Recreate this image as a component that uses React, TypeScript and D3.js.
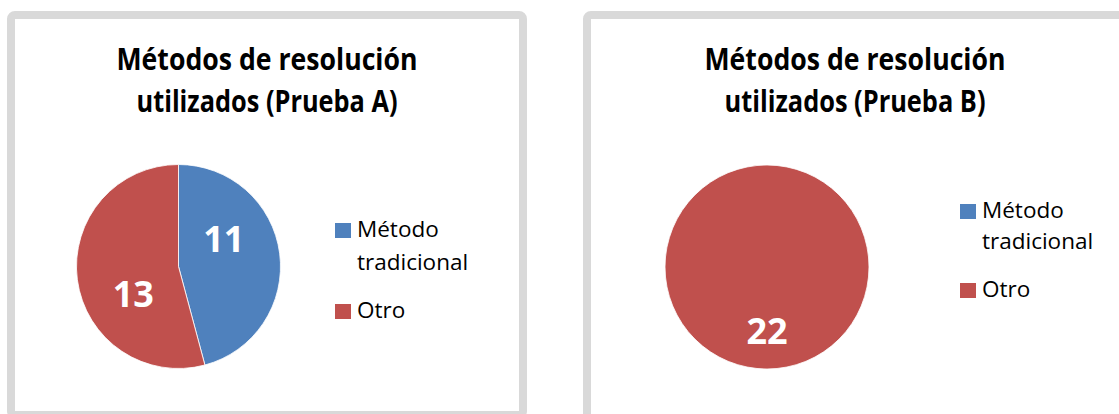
import * as d3 from "d3";

// chart data
const categories = ["Método tradicional", "Otro"];
const valuesA = [11, 13];
const valuesB = [0, 22];
const titleA = ["Métodos de resolución", "utilizados (Prueba A)"];
const titleB = ["Métodos de resolución", "utilizados (Prueba B)"];

const COLORS = ["#4F81BD", "#C0504D"];
const BORDER = "#D9D9D9";
const FONT = "'Open Sans', Lato, sans-serif";

type PanelProps = {
  values: number[];
  title: string[];
  box: { x: number; y: number; w: number; h: number };
  titleX: number;
  pie: { cx: number; cy: number; r: number; labelR: number; shift: number };
  legend: { x: number; y: number; line: number; gap: number };
};

function PiePanel({ values, title, box, titleX, pie, legend }: PanelProps) {
  const slices = d3.pie<number>().sort(null)(values);
  const arc = d3.arc<d3.PieArcDatum<number>>().innerRadius(0).outerRadius(pie.r);
  const labelArc = d3
    .arc<any>()
    .innerRadius(pie.r * pie.labelR)
    .outerRadius(pie.r * pie.labelR);

  return (
    <g>
      <rect x={box.x} y={box.y} width={box.w} height={box.h} rx={4}
        fill="#fff" stroke={BORDER} strokeWidth={8} />
      <g fontFamily={FONT} fontWeight={700} fontSize={30} fill="#000" textAnchor="middle">
        <text x={titleX} y={70} textLength={301} lengthAdjust="spacingAndGlyphs">{title[0]}</text>
        <text x={titleX} y={112} textLength={261} lengthAdjust="spacingAndGlyphs">{title[1]}</text>
      </g>
      <g transform={`translate(${pie.cx},${pie.cy})`}>
        {slices.map((s, i) => (
          <path key={i} d={arc(s) || ""} fill={COLORS[i]} stroke="#fff" strokeWidth={0.8} />
        ))}
        {slices.filter((s) => s.value > 0).map((s, i) => {
          const shift = (pie.shift * Math.PI) / 180;
          const [lx, ly] = labelArc.centroid({ startAngle: s.startAngle + shift, endAngle: s.endAngle + shift });
          return (
            <text key={i} x={lx} y={ly} dy="0.36em" textAnchor="middle"
              fontFamily={FONT} fontWeight={700} fontSize={36} fill="#fff">
              {s.value}
            </text>
          );
        })}
      </g>
      <g fontFamily={FONT} fontSize={22.5} fill="#000">
        <rect x={legend.x} y={legend.y - 14} width={16} height={15} fill={COLORS[0]} />
        <text x={legend.x + 22} y={legend.y}>{categories[0].split(" ")[0]}</text>
        <text x={legend.x + 22} y={legend.y + legend.line}>{categories[0].split(" ")[1]}</text>
        <rect x={legend.x} y={legend.y + legend.line + legend.gap - 14} width={16} height={15} fill={COLORS[1]} />
        <text x={legend.x + 22} y={legend.y + legend.line + legend.gap}>{categories[1]}</text>
      </g>
    </g>
  );
}

export default function App() {
  return (
    <svg width={1119} height={414} style={{ position: "absolute", left: 0, top: 0, background: "#fff" }}>
      <PiePanel
        values={valuesA}
        title={titleA}
        box={{ x: 11, y: 15, w: 512, h: 400 }}
        titleX={267}
        pie={{ cx: 178.5, cy: 266.5, r: 102, labelR: 0.52, shift: -24 }}
        legend={{ x: 335, y: 237, line: 33, gap: 48 }}
      />
      <PiePanel
        values={valuesB}
        title={titleB}
        box={{ x: 587, y: 15, w: 536, h: 420 }}
        titleX={855}
        pie={{ cx: 767, cy: 267, r: 102, labelR: 0.63, shift: 0 }}
        legend={{ x: 960, y: 218, line: 31, gap: 48 }}
      />
    </svg>
  );
}
